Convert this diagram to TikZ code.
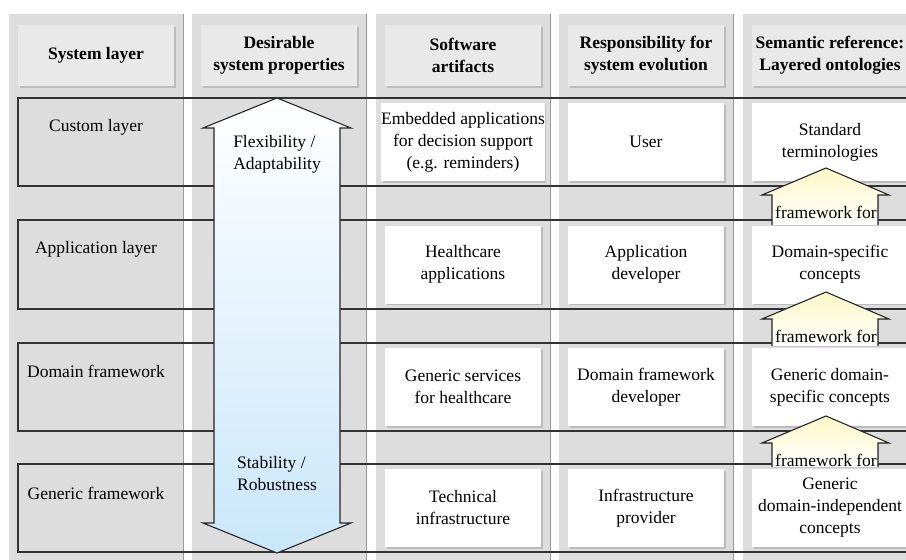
\documentclass[tikz,border=0pt]{standalone}
\usepackage{fontspec}
\setmainfont{Liberation Serif}
\usetikzlibrary{shadows}
\definecolor{colgray}{HTML}{DDDDDD}
\definecolor{edgegray}{HTML}{9A9A9A}
\definecolor{hdrgray}{HTML}{E9E9E9}
\definecolor{shadowgray}{HTML}{BBBBBB}
\definecolor{rowline}{HTML}{333333}
\definecolor{blueend}{HTML}{C9E7FA}
\definecolor{yellowtop}{HTML}{FCF8C4}
\begin{document}
\begin{tikzpicture}[x=1pt,y=-1pt,
  txt/.style={font=\fontsize{17.5}{22}\selectfont, align=center, inner sep=0pt},
  hdrbox/.style={fill=hdrgray, minimum width=156pt, minimum height=61pt, inner sep=0pt, align=center,
     font=\fontsize{17.5}{22}\selectfont\bfseries,
     drop shadow={opacity=1, fill=shadowgray, shadow xshift=1.5pt, shadow yshift=-1.5pt}},
  cellbox/.style={fill=white, minimum width=156pt, minimum height=78pt, inner sep=0pt, align=center,
     font=\fontsize{17.5}{22}\selectfont,
     drop shadow={opacity=1, fill=shadowgray, shadow xshift=1.5pt, shadow yshift=-1.5pt}},
  layerline/.style={draw=rowline, line width=1.2pt},
  bigarrow/.style={draw=black!85, line width=1.1pt, top color=white, bottom color=blueend},
  yarrowfill/.style={top color=yellowtop, bottom color=white},
  yarrowline/.style={draw=black!85, line width=1.1pt},
  lbl/.style={txt}
]
\clip (0,0) rectangle (906,560);
\fill[white] (0,0) rectangle (906,560);

% columns
\foreach \cx in {9,192,376,559,743} {
  \fill[colgray] (\cx,14) rectangle ++(174.5,560);
  \draw[edgegray, line width=0.8pt] (\cx+174.5,14) -- (\cx+174.5,560);
}

% headers
\node[hdrbox] (h1) at (96,55.5) {System layer};
\node[hdrbox] (h2) at (279,55.5) {Desirable\\system properties};
\node[hdrbox] (h3) at (463,55.5) {Software\\artifacts};
\node[hdrbox] (h4) at (646,55.5) {Responsibility for\\system evolution};
\node[hdrbox] (h5) at (830,55.5) {Semantic reference:\\Layered ontologies};

% layer rectangles
\draw[layerline] (18,98) rectangle (930,186);
\draw[layerline] (18,220) rectangle (930,309);
\draw[layerline] (18,343) rectangle (930,431);
\draw[layerline] (18,464) rectangle (930,552);

% layer labels
\node[lbl] (l1) at (96,127) {Custom layer};
\node[lbl] (l2) at (96,249) {Application layer};
\node[lbl] (l3) at (96,371) {Domain framework};
\node[lbl] (l4) at (96,493) {Generic framework};

% cells column 3
\node[cellbox] (a1) at (463,142) {Embedded applications\\for decision support\\(e.g. reminders)};
\node[cellbox] (a2) at (463,264.5) {Healthcare\\applications};
\node[cellbox] (a3) at (463,387) {Generic services\\for healthcare};
\node[cellbox] (a4) at (463,508) {Technical\\infrastructure};
% cells column 4
\node[cellbox] (r1) at (646,142) {User};
\node[cellbox] (r2) at (646,264.5) {Application\\developer};
\node[cellbox] (r3) at (646,387) {Domain framework\\developer};
\node[cellbox] (r4) at (646,508) {Infrastructure\\provider};
% cells column 5
\node[cellbox] (o1) at (830,142) {Standard\\terminologies};
\node[cellbox] (o2) at (830,264.5) {Domain-specific\\concepts};
\node[cellbox] (o3) at (830,387) {Generic domain-\\specific concepts};
\node[cellbox] (o4) at (830,508) {Generic\\domain-independent\\concepts};

% big double arrow
\path[bigarrow] (277,98) -- (351,128) -- (340,128) -- (340,523) -- (351,523) -- (277,553)
  -- (203,523) -- (214,523) -- (214,128) -- (203,128) -- cycle;
\node[lbl, align=left] (p1) at (277,154) {Flexibility /\\Adaptability};
\node[lbl, align=left] (p2) at (277,474) {Stability /\\Robustness};

% yellow arrows
\foreach \tip/\base/\bot/\n in {168/195/225/1, 292/319/346/2, 416/443/467/3} {
  \fill[yarrowfill] (826,\tip) -- (889,\base) -- (878,\base) -- (878,\bot) -- (772,\bot)
     -- (772,\base) -- (762,\base) -- cycle;
  \draw[yarrowline] (772,\bot) -- (772,\base) -- (762,\base) -- (826,\tip) -- (889,\base)
     -- (878,\base) -- (878,\bot);
  \node[lbl] (fw\n) at (826,\base+17) {framework for};
}
\end{tikzpicture}
\end{document}
